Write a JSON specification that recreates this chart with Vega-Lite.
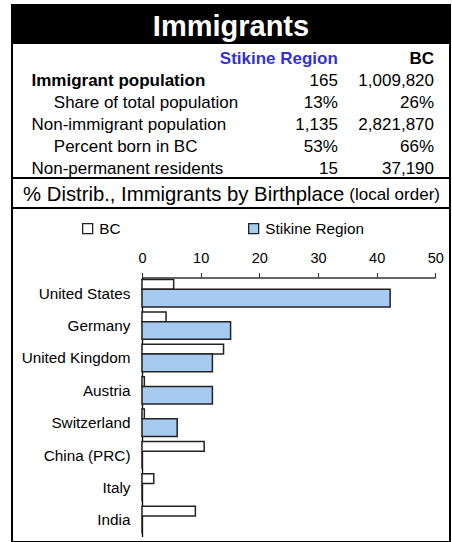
{
  "$schema": "https://vega.github.io/schema/vega-lite/v6.json",
  "padding": {"left": 11, "top": 4, "right": 3, "bottom": 0},
  "background": "white",
  "spacing": 0,
  "bounds": "flush",
  "config": {
    "font": "Liberation Sans",
    "view": {"stroke": "black", "strokeWidth": 2},
    "text": {"font": "Liberation Sans", "color": "black"},
    "axis": {"labelFont": "Liberation Sans", "labelColor": "black"},
    "legend": {"labelFont": "Liberation Sans", "labelColor": "black"}
  },
  "vconcat": [
    {
      "width": 438,
      "height": 38,
      "view": {"fill": "black", "stroke": "black", "strokeWidth": 2},
      "data": {"values": [{"title": "Immigrants"}]},
      "mark": {"type": "text", "color": "white", "fontSize": 29, "fontWeight": "bold", "align": "center", "baseline": "middle", "dy": 3},
      "encoding": {"text": {"field": "title"}}
    },
    {
      "width": 438,
      "height": 135,
      "data": {"values": [
        {"label": "Immigrant population", "kind": "count", "stikine": 165, "bc": 1009820},
        {"label": "Share of total population", "kind": "share", "stikine": 0.13, "bc": 0.26},
        {"label": "Non-immigrant population", "kind": "count", "stikine": 1135, "bc": 2821870},
        {"label": "Percent born in BC", "kind": "share", "stikine": 0.53, "bc": 0.66},
        {"label": "Non-permanent residents", "kind": "count", "stikine": 15, "bc": 37190}
      ]},
      "encoding": {
        "y": {"field": "label", "type": "nominal", "axis": null,
          "scale": {"type": "point", "padding": 0, "domain": ["header", "Immigrant population", "Share of total population", "Non-immigrant population", "Percent born in BC", "Non-permanent residents"], "range": [16, 126]}}
      },
      "layer": [
        {
          "transform": [{"filter": "datum.label === 'Immigrant population'"}],
          "mark": {"type": "text", "align": "left", "baseline": "middle", "fontSize": 17, "fontWeight": "bold"},
          "encoding": {
            "x": {"datum": 4.45, "type": "quantitative", "axis": null, "scale": {"domain": [0, 100], "nice": false, "zero": false}},
            "text": {"field": "label"}
          }
        },
        {
          "transform": [{"filter": "datum.label === 'Non-immigrant population' || datum.label === 'Non-permanent residents'"}],
          "mark": {"type": "text", "align": "left", "baseline": "middle", "fontSize": 17},
          "encoding": {
            "x": {"datum": 4.45, "type": "quantitative", "axis": null},
            "text": {"field": "label"}
          }
        },
        {
          "transform": [{"filter": "datum.label === 'Share of total population' || datum.label === 'Percent born in BC'"}],
          "mark": {"type": "text", "align": "left", "baseline": "middle", "fontSize": 17},
          "encoding": {
            "x": {"datum": 9.55, "type": "quantitative", "axis": null},
            "text": {"field": "label"}
          }
        },
        {
          "transform": [{"filter": "datum.kind === 'count'"}],
          "mark": {"type": "text", "align": "right", "baseline": "middle", "fontSize": 17},
          "encoding": {
            "x": {"datum": 74.4, "type": "quantitative", "axis": null},
            "text": {"field": "stikine", "type": "quantitative", "format": ","}
          }
        },
        {
          "transform": [{"filter": "datum.kind === 'share'"}],
          "mark": {"type": "text", "align": "right", "baseline": "middle", "fontSize": 17},
          "encoding": {
            "x": {"datum": 74.4, "type": "quantitative", "axis": null},
            "text": {"field": "stikine", "type": "quantitative", "format": ".0%"}
          }
        },
        {
          "transform": [{"filter": "datum.kind === 'count'"}],
          "mark": {"type": "text", "align": "right", "baseline": "middle", "fontSize": 17},
          "encoding": {
            "x": {"datum": 96.35, "type": "quantitative", "axis": null},
            "text": {"field": "bc", "type": "quantitative", "format": ","}
          }
        },
        {
          "transform": [{"filter": "datum.kind === 'share'"}],
          "mark": {"type": "text", "align": "right", "baseline": "middle", "fontSize": 17},
          "encoding": {
            "x": {"datum": 96.35, "type": "quantitative", "axis": null},
            "text": {"field": "bc", "type": "quantitative", "format": ".0%"}
          }
        },
        {
          "data": {"values": [{"head": "Stikine Region"}]},
          "mark": {"type": "text", "align": "right", "baseline": "middle", "fontSize": 17, "fontWeight": "bold", "color": "#3333cc"},
          "encoding": {
            "x": {"datum": 74.4, "type": "quantitative", "axis": null},
            "y": {"datum": "header", "type": "nominal", "axis": null},
            "text": {"field": "head"}
          }
        },
        {
          "data": {"values": [{"head": "BC"}]},
          "mark": {"type": "text", "align": "right", "baseline": "middle", "fontSize": 17, "fontWeight": "bold", "color": "black"},
          "encoding": {
            "x": {"datum": 96.35, "type": "quantitative", "axis": null},
            "y": {"datum": "header", "type": "nominal", "axis": null},
            "text": {"field": "head"}
          }
        }
      ]
    },
    {
      "width": 438,
      "height": 30,
      "data": {"values": [
        {"part": "main", "text": "% Distrib., Immigrants by Birthplace"},
        {"part": "note", "text": "(local order)"}
      ]},
      "layer": [
        {
          "transform": [{"filter": "datum.part === 'main'"}],
          "mark": {"type": "text", "align": "left", "baseline": "middle", "fontSize": 20.3, "dy": 2},
          "encoding": {
            "x": {"datum": 2.53, "type": "quantitative", "axis": null, "scale": {"domain": [0, 100], "nice": false, "zero": false}},
            "text": {"field": "text"}
          }
        },
        {
          "transform": [{"filter": "datum.part === 'note'"}],
          "mark": {"type": "text", "align": "left", "baseline": "middle", "fontSize": 17, "dy": 2},
          "encoding": {
            "x": {"datum": 77.0, "type": "quantitative", "axis": null},
            "text": {"field": "text"}
          }
        }
      ]
    },
    {
      "width": 438,
      "height": 334,
      "data": {"values": [
        {"country": "United States", "series": "BC", "pct": 5.4},
        {"country": "United States", "series": "Stikine Region", "pct": 42.3},
        {"country": "Germany", "series": "BC", "pct": 4.1},
        {"country": "Germany", "series": "Stikine Region", "pct": 15.1},
        {"country": "United Kingdom", "series": "BC", "pct": 13.9},
        {"country": "United Kingdom", "series": "Stikine Region", "pct": 12.0},
        {"country": "Austria", "series": "BC", "pct": 0.4},
        {"country": "Austria", "series": "Stikine Region", "pct": 12.0},
        {"country": "Switzerland", "series": "BC", "pct": 0.4},
        {"country": "Switzerland", "series": "Stikine Region", "pct": 6.0},
        {"country": "China (PRC)", "series": "BC", "pct": 10.6},
        {"country": "China (PRC)", "series": "Stikine Region", "pct": 0},
        {"country": "Italy", "series": "BC", "pct": 2.0},
        {"country": "Italy", "series": "Stikine Region", "pct": 0},
        {"country": "India", "series": "BC", "pct": 9.1},
        {"country": "India", "series": "Stikine Region", "pct": 0}
      ]},
      "resolve": {"scale": {"y": "independent"}},
      "layer": [
        {
          "transform": [{"filter": "datum.series === 'BC'"}],
          "mark": {"type": "bar", "stroke": "#222", "strokeWidth": 1.5},
          "encoding": {
            "x": {"field": "pct", "type": "quantitative",
              "scale": {"domain": [0, 50], "range": [130, 423.3], "nice": false, "zero": true},
              "axis": {"orient": "top", "offset": -69.5, "values": [0, 10, 20, 30, 40, 50], "grid": false, "title": null, "tickSize": 5, "tickColor": "#333", "domainColor": "#333", "domainWidth": 1.3, "labelFontSize": 14.5, "labelPadding": 7.5, "labelFlush": false, "labelColor": "black"}},
            "y": {"field": "country", "type": "nominal", "axis": null,
              "scale": {"domain": ["United States", "Germany", "United Kingdom", "Austria", "Switzerland", "China (PRC)", "Italy", "India"], "range": [69.5, 328.5], "paddingInner": 0.6973, "paddingOuter": 0.34865, "align": 0.0886}},
            "color": {"field": "series", "type": "nominal",
              "scale": {"domain": ["BC", "Stikine Region"], "range": ["white", "#a6caf0"]},
              "legend": {"orient": "none", "legendX": 68, "legendY": 216, "direction": "horizontal", "title": null, "symbolType": "square", "symbolSize": 100, "symbolStrokeColor": "black", "symbolStrokeWidth": 1.3, "labelFontSize": 15.3, "labelOffset": 4, "columnPadding": 125, "symbolOpacity": 1}}
          }
        },
        {
          "transform": [{"filter": "datum.series === 'Stikine Region'"}],
          "mark": {"type": "bar", "stroke": "#222", "strokeWidth": 1.5},
          "encoding": {
            "x": {"field": "pct", "type": "quantitative"},
            "y": {"field": "country", "type": "nominal",
              "scale": {"domain": ["United States", "Germany", "United Kingdom", "Austria", "Switzerland", "China (PRC)", "Italy", "India"], "range": [69.5, 328.5], "paddingInner": 0.4564, "paddingOuter": 0.2282, "align": 0.798},
              "axis": {"orient": "left", "offset": -130, "title": null, "ticks": false, "tickSize": 0, "labelPadding": 12, "labelFontSize": 15.3, "labelOffset": -4.4, "domainColor": "black", "domainWidth": 1.3, "labelLimit": 200, "labelColor": "black"}},
            "color": {"field": "series", "type": "nominal"}
          }
        }
      ]
    }
  ]
}
